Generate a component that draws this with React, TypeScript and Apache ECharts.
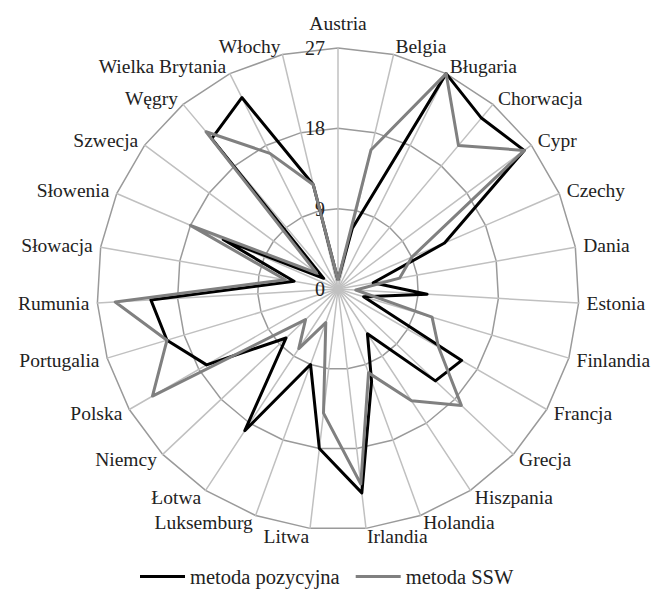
import React, { useEffect, useRef } from "react";
import * as echarts from "echarts";

// Categories in clockwise order starting at the top
const countries = [
  "Austria", "Belgia", "Bługaria", "Chorwacja", "Cypr", "Czechy", "Dania",
  "Estonia", "Finlandia", "Francja", "Grecja", "Hiszpania", "Holandia",
  "Irlandia", "Litwa", "Luksemburg", "Łotwa", "Niemcy", "Polska",
  "Portugalia", "Rumunia", "Słowacja", "Słowenia", "Szwecja", "Węgry",
  "Wielka Brytania", "Włochy",
];
const pozycyjna = [1, 7, 27, 25, 26, 13, 4, 10, 3, 16, 15, 6, 11, 23, 18, 9, 19, 8, 17, 20, 21, 5, 14, 2, 22, 24, 12];
const ssw = [1, 16, 27, 21, 26, 9, 7, 2, 11, 13, 19, 15, 10, 22, 14, 4, 8, 5, 24, 20, 25, 6, 18, 3, 23, 17, 12];
const seriesNames = ["metoda pozycyjna", "metoda SSW"];
const axisMin = 0;
const axisMax = 27;
const axisSplitNumber = 3; // ticks 0, 9, 18, 27

const FONT = "Liberation Serif";

export default function App() {
  const ref = useRef<HTMLDivElement>(null);

  useEffect(() => {
    if (!ref.current) return;
    const chart = echarts.init(ref.current, undefined, { renderer: "svg" });

    // ECharts radar runs counter-clockwise; reorder to get clockwise layout
    const order = [0, ...countries.slice(1).map((_, i) => countries.length - 1 - i)];
    const indicator = order.map((idx, k) => {
      const ind: any = { name: countries[idx], min: axisMin, max: axisMax };
      if (k === 0) {
        ind.nameGap = 15;
        ind.axisLabel = {
          show: true,
          color: "#222",
          fontSize: 20,
          fontFamily: FONT,
          margin: 13,
        };
      }
      return ind;
    });
    const reorder = (arr: number[]) => order.map((i) => arr[i]);

    chart.setOption({
      animation: false,
      backgroundColor: "#fff",
      textStyle: { fontFamily: FONT },
      legend: {
        data: seriesNames,
        left: 135,
        top: 561,
        icon: "rect",
        itemWidth: 45,
        itemHeight: 3,
        itemGap: 16,
        textStyle: { color: "#222", fontSize: 20.5, fontFamily: FONT },
      },
      radar: {
        center: [338, 289],
        radius: 241,
        startAngle: 90,
        shape: "polygon",
        splitNumber: axisSplitNumber,
        indicator,
        axisName: { color: "#222", fontSize: 19.5, fontFamily: FONT },
        nameGap: 8,
        axisLine: { lineStyle: { color: "#c0c0c0", width: 1.5 } },
        splitLine: { lineStyle: { color: "#9a9a9a", width: 1.5 } },
        splitArea: { show: false },
        axisTick: { show: false },
        axisLabel: { show: false },
      },
      series: [
        {
          type: "radar",
          symbol: "none",
          data: [
            {
              name: seriesNames[0],
              value: reorder(pozycyjna),
              lineStyle: { color: "#000", width: 3 },
              itemStyle: { color: "#000" },
            },
            {
              name: seriesNames[1],
              value: reorder(ssw),
              lineStyle: { color: "#808080", width: 3 },
              itemStyle: { color: "#808080" },
            },
          ],
        },
      ],
    });

    return () => chart.dispose();
  }, []);

  return (
    <div
      ref={ref}
      style={{ position: "fixed", left: 0, top: 0, width: 653, height: 591 }}
    />
  );
}
